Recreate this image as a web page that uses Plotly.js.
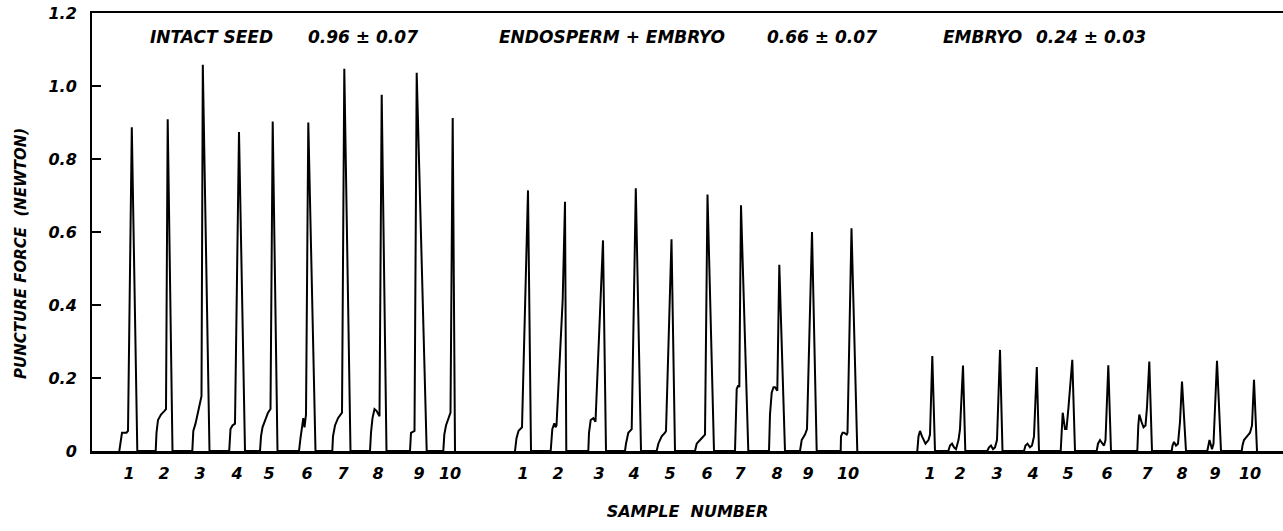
<!DOCTYPE html>
<html><head><meta charset="utf-8">
<script src="https://cdn.plot.ly/plotly-3.0.1.min.js"></script>
<style>html,body{margin:0;padding:0;background:#fff}</style>
</head><body>
<div id="chart" style="width:1283px;height:531px"></div>
<script>
// ---- data (recorder position in arbitrary chart units, force in newton) ----
const groupNames = ['INTACT SEED', 'ENDOSPERM + EMBRYO', 'EMBRYO'];
const groupMeans = ['0.96 \u00B1 0.07', '0.66 \u00B1 0.07', '0.24 \u00B1 0.03'];
const sampleLabels = ['1','2','3','4','5','6','7','8','9','10'];
const yTickVals = [0, 0.2, 0.4, 0.6, 0.8, 1.0, 1.2];
const yTickText = ['0', '0.2', '0.4', '0.6', '0.8', '1.0', '1.2'];

const intactTickPos = [3.7, 7.2, 10.8, 14.5, 17.7, 21.5, 25.1, 28.6, 32.7, 35.8];
const endoTickPos   = [43.1, 46.6, 50.7, 54.2, 57.8, 61.5, 64.8, 68.5, 71.6, 75.6];
const embryoTickPos = [83.8, 86.8, 90.5, 94.1, 97.6, 101.5, 105.5, 109.0, 112.3, 115.8];

const intactTime = [
  [2.73, 2.85, 3.0, 3.45, 3.6, 3.98, 4.53],
  [6.37, 6.45, 6.6, 6.9, 7.25, 7.4, 7.57, 8.05],
  [10.03, 10.13, 10.35, 10.7, 10.95, 11.08, 11.75],
  [13.72, 13.85, 14.05, 14.3, 14.7, 15.3],
  [16.8, 16.9, 17.05, 17.3, 17.6, 17.85, 18.07, 18.55],
  [20.7, 20.85, 21.0, 21.13, 21.25, 21.4, 21.63, 22.35],
  [24.03, 24.1, 24.3, 24.6, 25.0, 25.23, 25.85],
  [27.8, 27.9, 28.05, 28.25, 28.45, 28.75, 28.97, 29.45],
  [31.8, 31.9, 32.25, 32.47, 33.47],
  [35.13, 35.23, 35.4, 35.7, 35.85, 36.07, 36.3]
];
const intactForce = [
  [0, 0.03, 0.05, 0.05, 0.055, 0.887, 0],
  [0, 0.05, 0.085, 0.10, 0.11, 0.115, 0.909, 0],
  [0, 0.055, 0.075, 0.12, 0.15, 1.058, 0],
  [0, 0.06, 0.07, 0.075, 0.874, 0],
  [0, 0.04, 0.065, 0.085, 0.105, 0.115, 0.903, 0],
  [0, 0.035, 0.065, 0.09, 0.065, 0.10, 0.90, 0],
  [0, 0.04, 0.07, 0.09, 0.105, 1.047, 0],
  [0, 0.05, 0.09, 0.115, 0.11, 0.095, 0.976, 0],
  [0, 0.05, 0.055, 1.036, 0],
  [0, 0.045, 0.07, 0.095, 0.105, 0.912, 0]
];

const endoTime = [
  [42.3, 42.45, 42.65, 42.8, 43.0, 43.6, 43.9],
  [45.87, 45.95, 46.03, 46.23, 46.35, 46.45, 47.07, 47.3, 47.43],
  [49.63, 49.7, 49.87, 50.13, 50.35, 51.1, 51.4],
  [53.3, 53.4, 53.63, 53.97, 54.38, 54.9],
  [56.47, 56.63, 56.97, 57.3, 57.4, 57.95, 58.3],
  [60.3, 60.47, 60.97, 61.3, 61.55, 62.2],
  [64.3, 64.38, 64.47, 64.63, 64.73, 64.9, 65.63],
  [67.7, 67.8, 67.97, 68.15, 68.3, 68.53, 68.73, 69.3],
  [70.8, 70.97, 71.3, 71.5, 72.0, 72.47],
  [74.87, 74.9, 75.05, 75.2, 75.47, 75.55, 75.95, 76.53]
];
const endoForce = [
  [0, 0.035, 0.055, 0.06, 0.065, 0.714, 0],
  [0, 0.03, 0.06, 0.076, 0.065, 0.07, 0.415, 0.683, 0],
  [0, 0.05, 0.085, 0.09, 0.08, 0.577, 0],
  [0, 0.02, 0.05, 0.06, 0.72, 0],
  [0, 0.02, 0.04, 0.05, 0.055, 0.58, 0],
  [0, 0.02, 0.035, 0.045, 0.703, 0],
  [0, 0.10, 0.17, 0.18, 0.175, 0.673, 0],
  [0, 0.10, 0.16, 0.175, 0.175, 0.165, 0.51, 0],
  [0, 0.03, 0.045, 0.06, 0.60, 0],
  [0, 0.04, 0.05, 0.05, 0.045, 0.05, 0.61, 0]
];

const embryoTime = [
  [82.53, 82.65, 82.8, 83.0, 83.35, 83.65, 83.8, 84.03, 84.3],
  [85.63, 85.8, 86.0, 86.2, 86.4, 86.65, 86.8, 87.1, 87.33],
  [89.53, 89.7, 89.9, 90.1, 90.3, 90.5, 90.8, 91.05],
  [93.2, 93.35, 93.55, 93.8, 94.0, 94.2, 94.48, 94.7],
  [96.87, 96.97, 97.07, 97.3, 97.45, 97.65, 98.03, 98.3],
  [100.47, 100.6, 100.8, 101.05, 101.2, 101.35, 101.63, 101.9],
  [104.53, 104.63, 104.73, 104.95, 105.15, 105.35, 105.5, 105.73, 106.0],
  [107.97, 108.05, 108.2, 108.4, 108.6, 108.8, 109.0, 109.4],
  [111.53, 111.65, 111.75, 111.9, 112.0, 112.15, 112.5, 112.9],
  [114.97, 115.05, 115.2, 115.5, 115.8, 116.0, 116.2, 116.5]
];
const embryoForce = [
  [0, 0.04, 0.055, 0.04, 0.02, 0.03, 0.045, 0.26, 0],
  [0, 0.015, 0.02, 0.01, 0.005, 0.03, 0.06, 0.234, 0],
  [0, 0.01, 0.015, 0.005, 0.01, 0.03, 0.277, 0],
  [0, 0.015, 0.02, 0.01, 0.015, 0.04, 0.23, 0],
  [0, 0.07, 0.105, 0.06, 0.06, 0.12, 0.25, 0],
  [0, 0.02, 0.03, 0.02, 0.015, 0.03, 0.235, 0],
  [0, 0.07, 0.10, 0.08, 0.065, 0.07, 0.12, 0.245, 0],
  [0, 0.015, 0.025, 0.015, 0.02, 0.08, 0.19, 0],
  [0, 0.02, 0.03, 0.015, 0.005, 0.02, 0.247, 0],
  [0, 0.015, 0.03, 0.04, 0.05, 0.07, 0.195, 0]
];

// ---- build ----
function flatten(times, forces) {
  const x = [], y = [];
  times.forEach((t, i) => { x.push(...t); y.push(...forces[i]); });
  return {x, y};
}
const FONT = 'DejaVu Sans, Verdana, sans-serif';
const groups = [
  {t: intactTime, f: intactForce},
  {t: endoTime, f: endoForce},
  {t: embryoTime, f: embryoForce}
];
const traces = groups.map((g, i) => {
  const d = flatten(g.t, g.f);
  return {
    type: 'scatter', mode: 'lines', x: d.x, y: d.y, name: groupNames[i],
    line: {color: '#000', width: 2, shape: 'linear'},
    hoverinfo: 'x+y', showlegend: false
  };
});

const tickVals = intactTickPos.concat(endoTickPos, embryoTickPos);
const tickText = sampleLabels.concat(sampleLabels, sampleLabels);

const labelX = [5.6, 40.5, 84.9];
const meanX = [21.4, 67.3, 94.2];
const annFont = {family: FONT, size: 17, color: '#000', weight: 'bold', style: 'italic'};
const annotations = [];
groupNames.forEach((n, i) => {
  annotations.push({x: labelX[i], y: 1.134, xref: 'x', yref: 'y', text: n, showarrow: false,
    xanchor: 'left', yanchor: 'middle', font: annFont});
  annotations.push({x: meanX[i], y: 1.134, xref: 'x', yref: 'y', text: groupMeans[i], showarrow: false,
    xanchor: 'left', yanchor: 'middle', font: annFont});
});
annotations.push({
  x: -0.0596, y: 0.45, xref: 'paper', yref: 'paper', textangle: -90,
  text: 'PUNCTURE FORCE\u00A0\u00A0(NEWTON)', showarrow: false, xanchor: 'center', yanchor: 'middle',
  font: {family: FONT, size: 15, color: '#000', weight: 'bold', style: 'italic'}
});

const layout = {
  width: 1283, height: 531,
  margin: {l: 92, r: 0, t: 13, b: 80},
  paper_bgcolor: '#fff', plot_bgcolor: '#fff',
  showlegend: false,
  xaxis: {
    range: [0, 119.1], showgrid: false, zeroline: false,
    showline: true, linecolor: '#000', linewidth: 2.5, mirror: true,
    tickmode: 'array', tickvals: tickVals, ticktext: tickText, ticks: '',
    ticklabelstandoff: 6,
    tickfont: {family: FONT, size: 16, color: '#000', weight: 'bold', style: 'italic'},
    title: {text: 'SAMPLE\u00A0\u00A0NUMBER', standoff: 24,
      font: {family: FONT, size: 16, color: '#000', weight: 'bold', style: 'italic'}}
  },
  yaxis: {
    range: [0, 1.2], showgrid: false, zeroline: false,
    showline: true, linecolor: '#000', linewidth: 2,
    tickmode: 'array', tickvals: yTickVals, ticktext: yTickText,
    ticks: 'inside', ticklen: 9, tickwidth: 2, tickcolor: '#000',
    ticklabelstandoff: 10,
    tickfont: {family: FONT, size: 16, color: '#000', weight: 'bold', style: 'italic'}
  },
  annotations: annotations
};

Plotly.newPlot('chart', traces, layout, {displayModeBar: false, staticPlot: true});
</script>
</body></html>
